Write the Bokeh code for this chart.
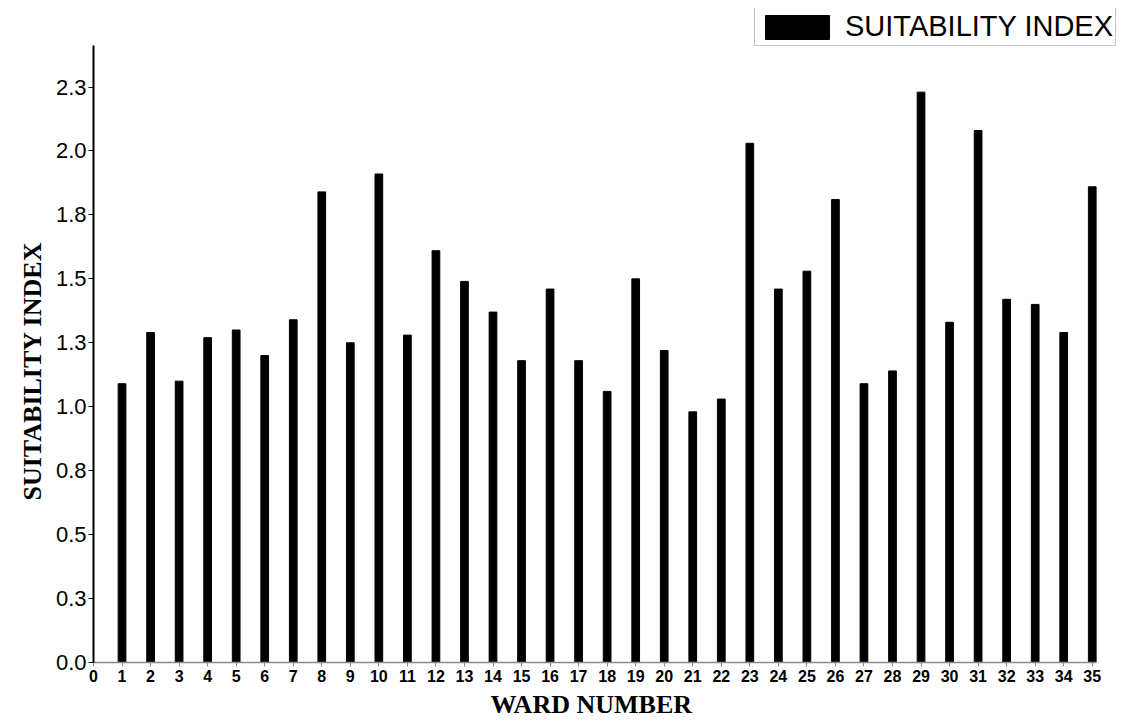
from bokeh.plotting import figure
from bokeh.models import FixedTicker, Range1d, Legend, LegendItem, ColumnDataSource, Title
from bokeh.embed import file_html
from bokeh.resources import INLINE

# ---- data ----
wards = list(range(1, 36))
suitability = [1.09, 1.29, 1.10, 1.27, 1.30, 1.20, 1.34, 1.84, 1.25, 1.91,
               1.28, 1.61, 1.49, 1.37, 1.18, 1.46, 1.18, 1.06, 1.50, 1.22,
               0.98, 1.03, 2.03, 1.46, 1.53, 1.81, 1.09, 1.14, 2.23, 1.33,
               2.08, 1.42, 1.40, 1.29, 1.86]
x_ticks = list(range(0, 36))
y_ticks = [0.0, 0.25, 0.5, 0.75, 1.0, 1.25, 1.5, 1.75, 2.0, 2.25]
y_tick_labels = ["0.0", "0.3", "0.5", "0.8", "1.0", "1.3", "1.5", "1.8", "2.0", "2.3"]
series_name = "SUITABILITY INDEX"
x_title = "WARD NUMBER"
y_title = "SUITABILITY INDEX"

src = ColumnDataSource(dict(ward=wards, value=suitability))

p = figure(width=1128, height=724, output_backend="svg", toolbar_location=None,
           x_range=Range1d(0, 36.13), y_range=Range1d(0, 2.557),
           min_border_left=93, min_border_right=4, min_border_top=8,
           min_border_bottom=62)
p.outline_line_color = None
p.xgrid.visible = False
p.ygrid.visible = False
p.background_fill_color = "white"
p.border_fill_color = "white"

r = p.vbar(x="ward", top="value", width=0.27, bottom=0, source=src,
           fill_color="black", line_color="black")

# x axis
xa = p.xaxis[0]
xa.ticker = FixedTicker(ticks=x_ticks)
xa.bounds = (0, 35.15)
xa.axis_line_color = "#8a8a8a"
xa.axis_line_width = 1.5
xa.major_tick_line_color = "#8a8a8a"
xa.major_tick_in = 0
xa.major_tick_out = 4
xa.minor_tick_line_color = None
xa.major_label_text_font = "Liberation Sans"
xa.major_label_text_font_style = "bold"
xa.major_label_text_font_size = "16px"
xa.major_label_text_color = "black"
xa.major_label_standoff = 3

xtitle = Title(text=x_title, align="left", offset=397, standoff=6,
               text_font="Liberation Serif", text_font_style="bold",
               text_font_size="26px", text_color="black")
p.add_layout(xtitle, "below")

# y axis
ya = p.yaxis[0]
ya.ticker = FixedTicker(ticks=y_ticks)
ya.bounds = (0, 2.412)
ya.major_label_overrides = {t: l for t, l in zip(y_ticks, y_tick_labels)}
ya.axis_line_color = "black"
ya.axis_line_width = 2
ya.major_tick_line_color = "black"
ya.major_tick_in = 0
ya.major_tick_out = 5
ya.minor_tick_line_color = None
ya.major_label_text_font = "Liberation Sans"
ya.major_label_text_font_size = "22px"
ya.major_label_text_color = "black"
ya.major_label_standoff = 2

ytitle = Title(text=y_title, align="left", offset=162, standoff=12,
               text_font="Liberation Serif", text_font_style="bold",
               text_font_size="26px", text_color="black")
p.add_layout(ytitle, "left")

legend = Legend(items=[LegendItem(label=series_name, renderers=[r])],
                location=(661, 616), orientation="vertical",
                glyph_width=80, glyph_height=30, label_standoff=8,
                label_text_font="Liberation Sans", label_text_font_size="29px",
                label_text_color="black", padding=2, margin=0, spacing=0,
                border_line_color="#8a8a8a", border_line_width=1.5,
                background_fill_alpha=1.0)
p.add_layout(legend, "center")

open("out.html", "w").write(file_html(p, INLINE))
